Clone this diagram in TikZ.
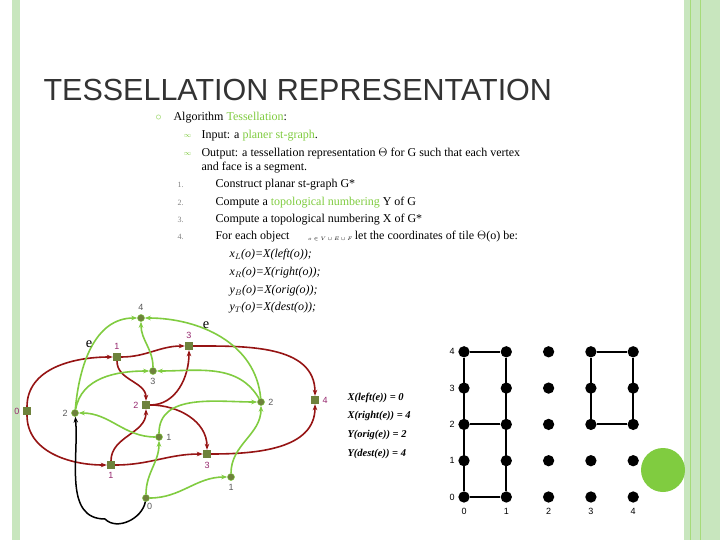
\documentclass[tikz,border=0pt]{standalone}
\usepackage{fontspec}
\setmainfont{Liberation Serif}
\setsansfont{Liberation Sans}
\usetikzlibrary{arrows.meta}
\definecolor{lgreen}{RGB}{128,204,64}
\definecolor{pale}{RGB}{200,230,190}
\definecolor{dred}{RGB}{150,20,20}
\definecolor{olive}{RGB}{110,130,60}
\definecolor{mag}{RGB}{150,40,110}
\begin{document}
\begin{tikzpicture}[x=1pt,y=-1pt,
  vert/.style={circle,fill=olive,draw=lgreen,inner sep=2.5pt},
  face/.style={rectangle,fill=olive,inner sep=4pt},
  gedge/.style={lgreen,line width=1.6pt,-{Stealth[length=6pt]}},
  redge/.style={dred,line width=1.6pt,-{Stealth[length=6pt]}},
  vlab/.style={font=\sffamily\small,text=gray!70!black},
  flab/.style={font=\sffamily\small,text=mag},
  dot/.style={circle,fill=black,inner sep=4pt},
  glab/.style={font=\sffamily\small}]
  \useasboundingbox (0,0) rectangle (720,540);
  \fill[white] (0,0) rectangle (720,540);
  % frame stripes
  \fill[pale] (12,0) rectangle (20,540);
  \fill[pale] (684,0) rectangle (720,540);
  \draw[lgreen!70,line width=1pt] (690,0) -- (690,540);
  \draw[lgreen!70,line width=1pt] (700,0) -- (700,540);
  % title
  \node[anchor=west,font=\sffamily\fontsize{30.5}{32}\selectfont,text=gray!40!black] (title) at (40,90) {TESSELLATION REPRESENTATION};
  % text block
  \begin{scope}[every node/.style={anchor=west,font=\fontsize{12}{14}\selectfont}]
    \node[text=lgreen] (b0) at (152,118) {$\circ$};
    \node (t0) at (170,118) {Algorithm \textcolor{lgreen}{Tessellation}:};
    \node[text=lgreen,font=\scriptsize] (b1) at (180,136) {$\infty$};
    \node (t1) at (198,136) {Input: a \textcolor{lgreen}{planer st-graph}.};
    \node[text=lgreen,font=\scriptsize] (b2) at (180,154) {$\infty$};
    \node (t2) at (198,154) {Output: a tessellation representation $\Theta$ for G such that each vertex};
    \node (t2b) at (198,168) {and face is a segment.};
    \node[text=gray,font=\footnotesize] (n1) at (174,185) {1.};
    \node (t3) at (212,185) {Construct planar st-graph G*};
    \node[text=gray,font=\footnotesize] (n2) at (174,203) {2.};
    \node (t4) at (212,203) {Compute a \textcolor{lgreen}{topological numbering} Y of G};
    \node[text=gray,font=\footnotesize] (n3) at (174,220) {3.};
    \node (t5) at (212,220) {Compute a topological numbering X of G*};
    \node[text=gray,font=\footnotesize] (n4) at (174,237) {4.};
    \node (t6) at (212,237) {For each object \hspace{5.2em}let the coordinates of tile $\Theta$(o) be:};
    \node[font=\tiny,inner sep=0pt] (t6b) at (308,239) {$o\in V\cup E\cup F$};
    \node (f1) at (226,255) {\itshape x$_L$(o)=X(left(o));};
    \node (f2) at (226,273) {\itshape x$_R$(o)=X(right(o));};
    \node (f3) at (226,291) {\itshape y$_B$(o)=X(orig(o));};
    \node (f4) at (226,308) {\itshape y$_T$(o)=X(dest(o));};
  \end{scope}
  % faces (red squares)
  \node[face] (F0) at (27,411) {};
  \node[face] (F1t) at (117,357) {};
  \node[face] (F3t) at (189,346) {};
  \node[face] (F2) at (146,405) {};
  \node[face] (F4) at (315,400) {};
  \node[face] (F1b) at (111,465) {};
  \node[face] (F3b) at (207,454) {};
  % red edges
  \draw[redge] (F0) to[out=90,in=180] (F1t);
  \draw[redge] (F0) to[out=-90,in=180] (F1b);
  \draw[redge] (F1t) to[out=0,in=180] (F3t);
  \draw[redge] (F1t) to[out=-90,in=90] (F2);
  \draw[redge] (F1b) to[out=90,in=-90] (F2);
  \draw[redge] (F2) to[out=0,in=-90] (F3t);
  \draw[redge] (F2) to[out=0,in=90] (F3b);
  \draw[redge] (F1b) to[out=0,in=180] (F3b);
  \draw[redge] (F3t) to[out=0,in=90] (F4);
  \draw[redge] (F3b) to[out=0,in=-90] (F4);
  % vertices (green circles)
  \node[vert] (V4) at (141,318) {};
  \node[vert] (V3) at (153,371) {};
  \node[vert] (V2l) at (75,413) {};
  \node[vert] (V2r) at (261,402) {};
  \node[vert] (V1) at (159,437) {};
  \node[vert] (V1b) at (231,477) {};
  \node[vert] (V0) at (146,498) {};
  % green edges
  \draw[gedge] (V0) to[out=90,in=-90] (V1);
  \draw[gedge] (V0) to[out=0,in=180] (V1b);
  \draw[gedge] (V1b) to[out=90,in=-90] (V2r);
  \draw[gedge] (V1) to[out=90,in=180] (V2r);
  \draw[gedge] (V1) to[out=180,in=0] (V2l);
  \draw[gedge] (V2l) to[out=80,in=180] (V3);
  \draw[gedge] (V2r) to[out=120,in=0] (V3);
  \draw[gedge] (V3) to[out=90,in=-90] (V4);
  \draw[gedge] (V2l) to[out=85,in=180] (V4);
  \draw[gedge] (V2r) to[out=95,in=0] (V4);
  \draw[line width=1.5pt,-{Stealth[length=6pt]}] (V0) to[out=-100,in=-45] (105,519) to[out=180,in=-85] (V2l);
  % labels
  \node[vlab,above] (lv4) at (V4.north) {4};
  \node[vlab,below] (lv3) at (V3.south) {3};
  \node[vlab,left] (lv2l) at (V2l.west) {2};
  \node[vlab,right] (lv2r) at (V2r.east) {2};
  \node[vlab,right] (lv1) at (V1.east) {1};
  \node[vlab,below] (lv1b) at (V1b.south) {1};
  \node[vlab,below right,inner sep=1pt] (lv0) at (V0.south) {0};
  \node[flab,left] (lf0) at (F0.west) {0};
  \node[flab,above] (lf1t) at (F1t.north) {1};
  \node[flab,above] (lf3t) at (F3t.north) {3};
  \node[flab,left] (lf2) at (F2.west) {2};
  \node[flab,right] (lf4) at (F4.east) {4};
  \node[flab,below] (lf1b) at (F1b.south) {1};
  \node[flab,below] (lf3b) at (F3b.south) {3};
  \node[font=\Large] (e1) at (89,344) {e};
  \node[font=\Large] (e2) at (206,325) {e};
  % values
  \begin{scope}[every node/.style={anchor=west,font=\bfseries\itshape\fontsize{10.5}{12}\selectfont}]
    \node (x1) at (344,398) {X(left(e)) = 0};
    \node (x2) at (344,416) {X(right(e)) = 4};
    \node (x3) at (344,435) {Y(orig(e)) = 2};
    \node (x4) at (344,454) {Y(dest(e)) = 4};
  \end{scope}
  % grid
  \foreach \i in {0,...,4} {
    \foreach \j in {0,...,4} {
      \node[dot] (g\i\j) at (464+42.3*\i,497-36.3*\j) {};
    }
    \node[glab] (cx\i) at (464+42.3*\i,511) {\i};
    \node[glab] (ry\i) at (452,497-36.3*\i) {\i};
  }
  \draw[line width=2pt] (g00) -- (g04) -- (g14) -- (g10) -- (g00);
  \draw[line width=2pt] (g02) -- (g12);
  \draw[line width=2pt] (g32) -- (g34) -- (g44) -- (g42) -- (g32);
  \fill[lgreen] (663,470) circle (22);
\end{tikzpicture}
\end{document}
